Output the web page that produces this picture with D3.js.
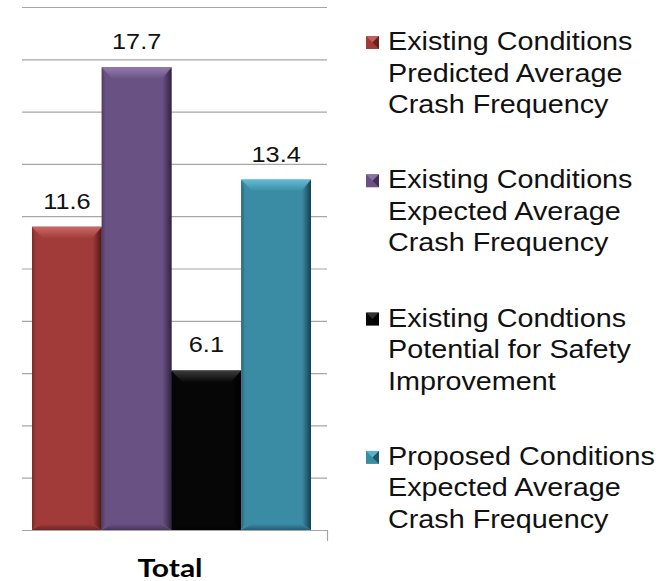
<!DOCTYPE html>
<html><head><meta charset="utf-8">
<script src="https://cdn.jsdelivr.net/npm/d3@7/dist/d3.min.js"></script>
<style>body{margin:0;background:#fff}svg{display:block}</style>
</head><body><svg id="c" width="670" height="581"></svg>
<script>
const categories = ["Total"];
const seriesNames = [
  ["Existing Conditions", "Predicted Average", "Crash Frequency"],
  ["Existing Conditions", "Expected Average", "Crash Frequency"],
  ["Existing Condtions", "Potential for Safety", "Improvement"],
  ["Proposed Conditions", "Expected Average", "Crash Frequency"]
];
const seriesValues = [11.6, 17.7, 6.1, 13.4];
const valueLabels = ["11.6", "17.7", "6.1", "13.4"];
const yTicks = [0, 2, 4, 6, 8, 10, 12, 14, 16, 18, 20];
const seriesColors = [
  {face:"#a03b39", top:"#c86a67", dark:"#4a1716"},
  {face:"#6a5183", top:"#937bad", dark:"#2f2340"},
  {face:"#060606", top:"#3c3c3c", dark:"#000000"},
  {face:"#3a8ba4", top:"#62bcd4", dark:"#163f4c"}
];
const SX = 1.15; // horizontal text stretch of the reference

const svg = d3.select("#c");
const defs = svg.append("defs");
const y = d3.scaleLinear().domain([0, 20]).range([530, 7]);
const xCat = d3.scaleBand().domain(categories).range([22, 327]);
const xBar = d3.scaleBand().domain(d3.range(seriesValues.length)).range([32, 311]).padding(0);

svg.append("g").selectAll("line").data(yTicks).join("line")
  .attr("x1", xCat.range()[0]).attr("x2", xCat.range()[1])
  .attr("y1", d => y(d) + 0.5).attr("y2", d => y(d) + 0.5)
  .attr("stroke", "#a6a6a6").attr("stroke-width", 1.2);
svg.append("line").attr("x1", xCat.range()[1] + 0.5).attr("x2", xCat.range()[1] + 0.5)
  .attr("y1", y(0)).attr("y2", y(0) + 11).attr("stroke", "#a6a6a6").attr("stroke-width", 1.2);

seriesColors.forEach((c, i) => {
  const gr = defs.append("linearGradient").attr("id", "side" + i).attr("x1", 0).attr("x2", 1).attr("y1", 0).attr("y2", 0);
  gr.append("stop").attr("offset", 0).attr("stop-color", c.face);
  gr.append("stop").attr("offset", 1).attr("stop-color", c.dark);
  const gt = defs.append("linearGradient").attr("id", "top" + i).attr("x1", 0).attr("x2", 0).attr("y1", 0).attr("y2", 1);
  gt.append("stop").attr("offset", 0).attr("stop-color", c.top);
  gt.append("stop").attr("offset", 1).attr("stop-color", c.face);
  const gb = defs.append("linearGradient").attr("id", "bot" + i).attr("x1", 0).attr("x2", 0).attr("y1", 0).attr("y2", 1);
  gb.append("stop").attr("offset", 0).attr("stop-color", c.face);
  gb.append("stop").attr("offset", 1).attr("stop-color", d3.interpolateRgb(c.face, c.dark)(0.6));
  const gl = defs.append("linearGradient").attr("id", "left" + i).attr("x1", 0).attr("x2", 1).attr("y1", 0).attr("y2", 0);
  gl.append("stop").attr("offset", 0).attr("stop-color", d3.interpolateRgb(c.face, c.dark)(0.45));
  gl.append("stop").attr("offset", 1).attr("stop-color", c.face);
});

const bars = svg.append("g").selectAll("g").data(seriesValues).join("g");
bars.each(function(v, i) {
  const g = d3.select(this);
  const x0 = xBar(i), w = xBar.bandwidth(), yt = y(v), yb = y(0);
  const bi = 11, bt = 12, bb = 6, bs = 9;
  g.append("rect").attr("x", x0).attr("y", yt).attr("width", w).attr("height", yb - yt).attr("fill", seriesColors[i].face);
  const pts = a => a.map(p => p.join(",")).join(" ");
  g.append("polygon").attr("points", pts([[x0, yt], [x0 + 4, yt + bt], [x0 + 4, yb - bb], [x0, yb]])).attr("fill", `url(#left${i})`);
  g.append("polygon").attr("points", pts([[x0 + w - bs, yt + bt], [x0 + w, yt], [x0 + w, yb], [x0 + w - bs, yb - bb]])).attr("fill", `url(#side${i})`);
  g.append("polygon").attr("points", pts([[x0, yt], [x0 + w, yt], [x0 + w - bi, yt + bt], [x0 + bi, yt + bt]])).attr("fill", `url(#top${i})`);
  g.append("polygon").attr("points", pts([[x0, yb], [x0 + bi, yb - bb], [x0 + w - bi, yb - bb], [x0 + w, yb]])).attr("fill", `url(#bot${i})`);
});

svg.append("g").selectAll("text").data(seriesValues).join("text")
  .attr("transform", (d, i) => `translate(${xBar(i) + xBar.bandwidth() / 2},${y(d) - 18}) scale(${SX},1)`)
  .attr("text-anchor", "middle").attr("font-family", "Liberation Sans, Arial, sans-serif")
  .attr("font-size", 22).attr("fill", "#111").text((d, i) => valueLabels[i]);

svg.append("text")
  .attr("transform", `translate(170,577) scale(1.2,1)`)
  .attr("text-anchor", "middle").attr("font-family", "Lato, sans-serif").attr("font-weight", 700)
  .attr("font-size", 25).attr("fill", "#000").text(categories[0]);

const leg = svg.append("g").selectAll("g").data(seriesNames).join("g")
  .attr("transform", (d, i) => `translate(0,${50 + i * 138.3})`);
leg.each(function(lines, i) {
  const g = d3.select(this);
  const c = seriesColors[i];
  const mx = 366, mw = 13, my = -14, mh = 13;
  g.append("rect").attr("x", mx).attr("y", my).attr("width", mw).attr("height", mh).attr("fill", c.face);
  g.append("polygon").attr("points", `${mx},${my} ${mx + mw},${my} ${mx + mw / 2},${my + mh / 2}`).attr("fill", c.top).attr("opacity", 0.8);
  g.append("polygon").attr("points", `${mx + mw},${my} ${mx + mw},${my + mh} ${mx + mw / 2},${my + mh / 2}`).attr("fill", c.dark).attr("opacity", 0.7);
  g.selectAll("text").data(lines).join("text")
    .attr("transform", (t, j) => `translate(388,${j * 31.5}) scale(${SX},1)`)
    .attr("font-family", "Liberation Sans, Arial, sans-serif").attr("font-size", 25).attr("fill", "#111")
    .text(t => t);
});
</script></body></html>
